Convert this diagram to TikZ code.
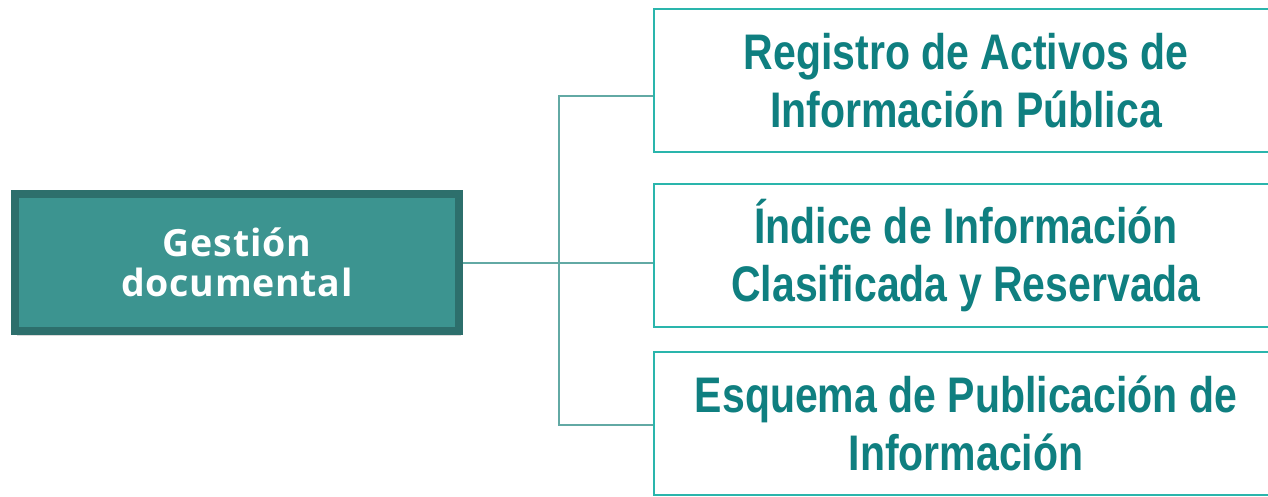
\documentclass[tikz,border=0pt]{standalone}
\usepackage{fontspec}
\usepackage{tikz}
\usetikzlibrary{shadows}
\newfontfamily\gestfont[LetterSpace=2]{Open Sans}
\newfontfamily\itemfont[FakeStretch=0.82]{Liberation Sans Bold}
\definecolor{tealfill}{HTML}{3C9490}
\definecolor{tealedge}{HTML}{2D6F6C}
\definecolor{tealline}{HTML}{62A9A4}
\definecolor{tealbox}{HTML}{2AB5AC}
\definecolor{tealtext}{HTML}{0F7F80}
\begin{document}
\begin{tikzpicture}[x=1pt,y=-1pt,
  mainbox/.style={draw=tealedge,line width=8pt,fill=tealfill,minimum width=444pt,minimum height=137pt,
    text=white,align=center,font=\gestfont\bfseries\fontsize{37.5}{40}\selectfont,
    drop shadow={opacity=0.3,shadow xshift=2pt,shadow yshift=-5pt}},
  itembox/.style={draw=tealbox,line width=2pt,fill=white,minimum width=624pt,minimum height=143pt,
    text=tealtext,align=center,font=\itemfont\fontsize{50}{58}\selectfont},
  conn/.style={draw=tealline,line width=2pt}]
\useasboundingbox (0,0) rectangle (1268,497);
\clip (0,0) rectangle (1268,497);
%Boxes
\node [mainbox] (gestion) at (237,262.5) {Gestión\\documental};
\node [itembox] (registro) at (966,80.5) {Registro de Activos de\\Información Pública};
\node [itembox] (indice) at (966,255.5) {Índice de Información\\Clasificada y Reservada};
\node [itembox] (esquema) at (966,423.5) {Esquema de Publicación de\\Información};
%Lines
\coordinate (uppersplit) at (559,96);
\coordinate (lowersplit) at (559,425);
\draw [conn] (gestion.east) -- (gestion.east -| indice.west);
\draw [conn] (registro.west |- uppersplit) -- (uppersplit) -- (lowersplit) -- (esquema.west |- lowersplit);
\end{tikzpicture}
\end{document}
